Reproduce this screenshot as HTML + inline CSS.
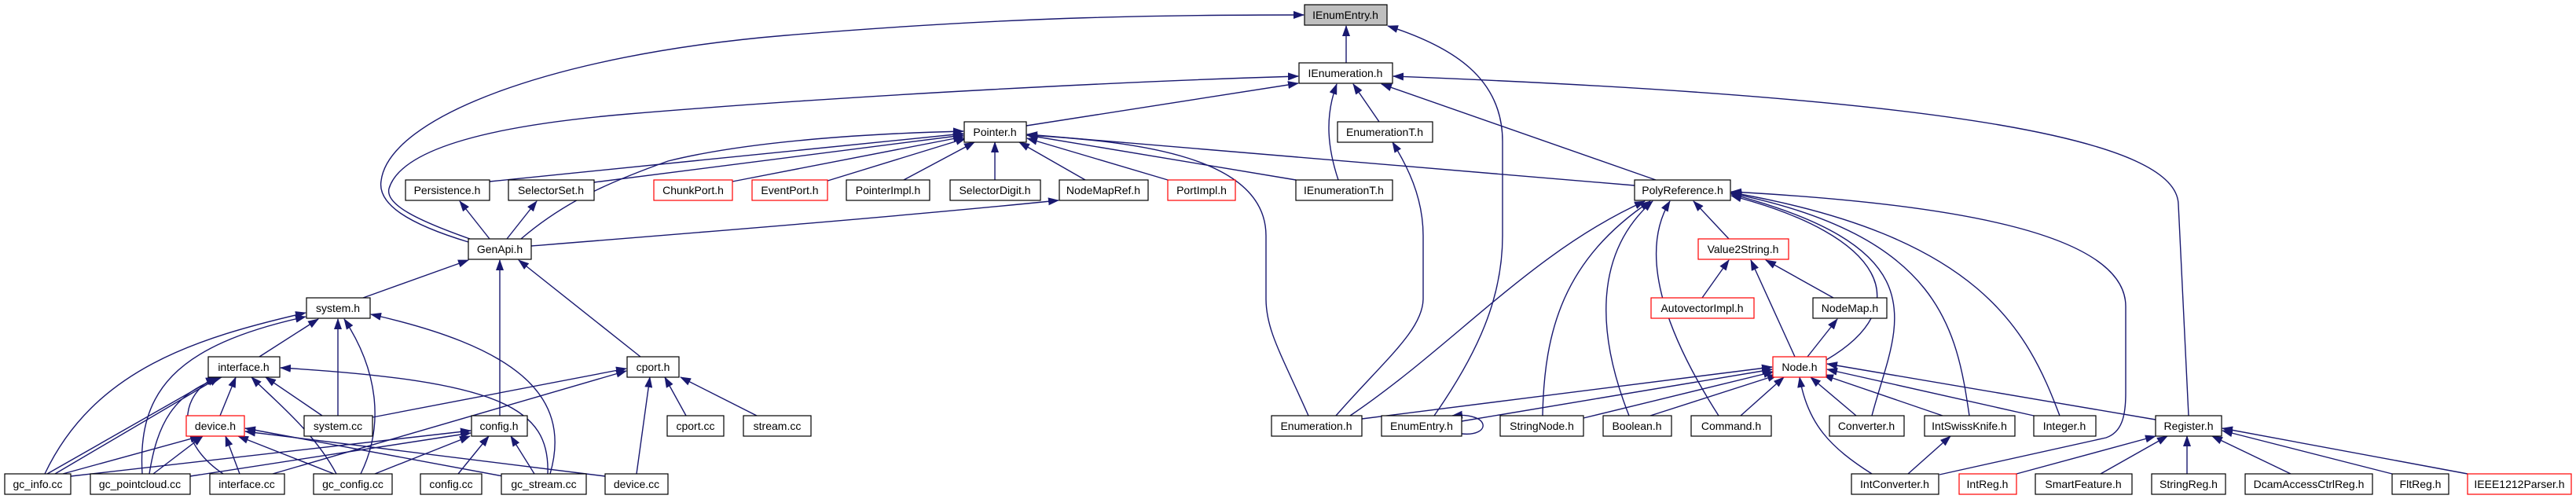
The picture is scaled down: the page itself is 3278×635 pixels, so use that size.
<!DOCTYPE html>
<html><head><meta charset="utf-8"><style>
html,body{margin:0;padding:0;background:#fff}
svg{display:block}
text{font-family:"Liberation Sans",sans-serif;font-size:14px;fill:#000;text-anchor:middle}
.e{fill:none;stroke:#191970;stroke-width:1.4;marker-end:url(#a)}
rect{fill:#fff;stroke:#000;stroke-width:1.2}
rect.r{stroke:#ff0000}
rect.g{fill:#bfbfbf}
</style></head><body>
<svg width="3278" height="635" viewBox="0 0 3278 635" xmlns="http://www.w3.org/2000/svg">
<defs><marker id="a" markerUnits="userSpaceOnUse" markerWidth="14" markerHeight="10" refX="13" refY="5" orient="auto"><path d="M0,0 L14,5 L0,10 z" fill="#191970"/></marker></defs>
<g>
<path class="e" d="M1713,80 L1713,33"/>
<path class="e" d="M596,308 C520,285 480,260 485,230 C495,150 700,70 1000,45 C1300,20 1500,19 1659,19"/>
<path class="e" d="M598,304 C530,280 490,260 495,240 C510,190 620,160 800,145 C1100,120 1450,103 1652,97"/>
<path class="e" d="M1825,529 C1880,450 1912,380 1912,300 L1912,180 C1912,100 1850,60 1766,33"/>
<path class="e" d="M1306,160 L1652,106"/>
<path class="e" d="M1703,229 C1690,190 1685,150 1701,107"/>
<path class="e" d="M1755,155 L1722,107"/>
<path class="e" d="M2107,229 L1758,107"/>
<path class="e" d="M2785,529 L2772,260 C2770,180 2500,125 1773,97"/>
<path class="e" d="M623,231 L1226,170"/>
<path class="e" d="M756,232 L1226,172"/>
<path class="e" d="M932,231 L1226,174"/>
<path class="e" d="M1050,231 L1229,176"/>
<path class="e" d="M1150,229 L1240,181"/>
<path class="e" d="M1266,229 L1266,181"/>
<path class="e" d="M1381,229 L1297,181"/>
<path class="e" d="M1486,229 L1307,176"/>
<path class="e" d="M1649,229 L1307,172"/>
<path class="e" d="M2080,236 L1307,171"/>
<path class="e" d="M663,304 C720,255 780,230 850,205 C950,180 1100,170 1226,167"/>
<path class="e" d="M1665,529 C1630,450 1611,420 1611,380 L1611,300 C1611,200 1450,180 1307,172"/>
<path class="e" d="M623,304 L585,256"/>
<path class="e" d="M645,304 L683,256"/>
<path class="e" d="M676,313 C900,295 1150,275 1347,255"/>
<path class="e" d="M462,379 L596,331"/>
<path class="e" d="M636,529 L636,331"/>
<path class="e" d="M815,454 L660,331"/>
<path class="e" d="M330,454 L405,406"/>
<path class="e" d="M430,529 L430,406"/>
<path class="e" d="M57,603 C120,470 250,430 389,398"/>
<path class="e" d="M181,603 C175,500 220,440 389,403"/>
<path class="e" d="M459,603 C490,540 480,470 438,406"/>
<path class="e" d="M700,603 C730,500 650,440 472,400"/>
<path class="e" d="M280,529 L300,480"/>
<path class="e" d="M410,529 L338,480"/>
<path class="e" d="M284,603 C220,560 230,500 275,480"/>
<path class="e" d="M60,603 L276,480"/>
<path class="e" d="M70,603 L279,480"/>
<path class="e" d="M190,603 C200,540 220,500 282,480"/>
<path class="e" d="M428,603 C400,550 350,510 320,480"/>
<path class="e" d="M697,603 C700,520 640,485 357,468"/>
<path class="e" d="M474,531 L797,469"/>
<path class="e" d="M347,603 L797,472"/>
<path class="e" d="M810,603 L827,480"/>
<path class="e" d="M873,529 L846,480"/>
<path class="e" d="M963,529 L866,480"/>
<path class="e" d="M80,603 L255,555"/>
<path class="e" d="M195,603 L258,555"/>
<path class="e" d="M305,603 L287,555"/>
<path class="e" d="M425,603 L303,555"/>
<path class="e" d="M640,606 L312,545"/>
<path class="e" d="M770,606 L312,549"/>
<path class="e" d="M90,606 L599,548"/>
<path class="e" d="M242,606 L599,551"/>
<path class="e" d="M477,603 L598,555"/>
<path class="e" d="M583,603 L622,555"/>
<path class="e" d="M680,603 L650,555"/>
<path class="e" d="M1718,529 C1850,440 1950,320 2093,256"/>
<path class="e" d="M1963,529 C1965,420 1990,330 2100,256"/>
<path class="e" d="M2073,529 C2030,420 2030,320 2103,256"/>
<path class="e" d="M2187,529 C2130,440 2080,330 2125,256"/>
<path class="e" d="M2200,304 L2155,256"/>
<path class="e" d="M2324,458 C2440,390 2400,300 2203,249"/>
<path class="e" d="M2382,529 C2410,420 2480,320 2203,247"/>
<path class="e" d="M2506,529 C2490,420 2470,300 2203,246"/>
<path class="e" d="M2621,529 C2580,420 2520,300 2203,245"/>
<path class="e" d="M2468,604 L2680,557 C2700,550 2705,530 2705,500 L2705,390 C2705,300 2500,260 2203,244"/>
<path class="e" d="M2166,379 L2200,331"/>
<path class="e" d="M2333,379 L2247,331"/>
<path class="e" d="M2284,454 L2228,331"/>
<path class="e" d="M2300,454 L2338,406"/>
<path class="e" d="M1733,533 L2255,467"/>
<path class="e" d="M1860,536 L2255,470"/>
<path class="e" d="M2015,532 L2257,473"/>
<path class="e" d="M2100,529 L2262,477"/>
<path class="e" d="M2215,529 L2270,480"/>
<path class="e" d="M2362,529 L2304,480"/>
<path class="e" d="M2472,529 L2320,477"/>
<path class="e" d="M2588,529 L2325,470"/>
<path class="e" d="M2743,534 L2325,463"/>
<path class="e" d="M2382,603 C2330,570 2300,540 2290,480"/>
<path class="e" d="M2428,603 L2482,555"/>
<path class="e" d="M2566,603 L2743,555"/>
<path class="e" d="M2673,603 L2758,555"/>
<path class="e" d="M2783,603 L2783,555"/>
<path class="e" d="M2915,603 L2815,555"/>
<path class="e" d="M3044,603 L2828,548"/>
<path class="e" d="M3140,603 L2828,545"/>
<path class="e" d="M1700,529 C1760,460 1811,420 1811,380 L1811,300 C1811,250 1790,210 1772,181"/>
<path class="e" d="M1860,552 C1898,556 1898,524 1848,529"/>
</g>
<g>
<rect class="g" x="1660" y="6" width="105" height="26"/><text x="1712" y="24">IEnumEntry.h</text>
<rect x="1653" y="80" width="119" height="26"/><text x="1712" y="98">IEnumeration.h</text>
<rect x="1227" y="155" width="79" height="26"/><text x="1266" y="173">Pointer.h</text>
<rect x="1702" y="155" width="121" height="26"/><text x="1762" y="173">EnumerationT.h</text>
<rect x="516" y="229" width="107" height="26"/><text x="569" y="247">Persistence.h</text>
<rect x="647" y="229" width="109" height="26"/><text x="701" y="247">SelectorSet.h</text>
<rect class="r" x="832" y="229" width="100" height="26"/><text x="882" y="247">ChunkPort.h</text>
<rect class="r" x="957" y="229" width="96" height="26"/><text x="1005" y="247">EventPort.h</text>
<rect x="1077" y="229" width="106" height="26"/><text x="1130" y="247">PointerImpl.h</text>
<rect x="1209" y="229" width="115" height="26"/><text x="1266" y="247">SelectorDigit.h</text>
<rect x="1348" y="229" width="113" height="26"/><text x="1404" y="247">NodeMapRef.h</text>
<rect class="r" x="1486" y="229" width="86" height="26"/><text x="1529" y="247">PortImpl.h</text>
<rect x="1649" y="229" width="123" height="26"/><text x="1710" y="247">IEnumerationT.h</text>
<rect x="2080" y="229" width="122" height="26"/><text x="2141" y="247">PolyReference.h</text>
<rect x="596" y="304" width="80" height="26"/><text x="636" y="322">GenApi.h</text>
<rect class="r" x="2161" y="304" width="115" height="26"/><text x="2218" y="322">Value2String.h</text>
<rect x="390" y="379" width="81" height="26"/><text x="430" y="397">system.h</text>
<rect class="r" x="2101" y="379" width="131" height="26"/><text x="2166" y="397">AutovectorImpl.h</text>
<rect x="2307" y="379" width="94" height="26"/><text x="2354" y="397">NodeMap.h</text>
<rect x="265" y="454" width="91" height="26"/><text x="310" y="472">interface.h</text>
<rect x="798" y="454" width="66" height="26"/><text x="831" y="472">cport.h</text>
<rect class="r" x="2256" y="454" width="68" height="26"/><text x="2290" y="472">Node.h</text>
<rect class="r" x="237" y="529" width="74" height="26"/><text x="274" y="547">device.h</text>
<rect x="387" y="529" width="87" height="26"/><text x="430" y="547">system.cc</text>
<rect x="600" y="529" width="71" height="26"/><text x="635" y="547">config.h</text>
<rect x="849" y="529" width="72" height="26"/><text x="885" y="547">cport.cc</text>
<rect x="946" y="529" width="86" height="26"/><text x="989" y="547">stream.cc</text>
<rect x="1618" y="529" width="115" height="26"/><text x="1675" y="547">Enumeration.h</text>
<rect x="1758" y="529" width="102" height="26"/><text x="1809" y="547">EnumEntry.h</text>
<rect x="1909" y="529" width="106" height="26"/><text x="1962" y="547">StringNode.h</text>
<rect x="2040" y="529" width="87" height="26"/><text x="2083" y="547">Boolean.h</text>
<rect x="2152" y="529" width="102" height="26"/><text x="2203" y="547">Command.h</text>
<rect x="2328" y="529" width="95" height="26"/><text x="2375" y="547">Converter.h</text>
<rect x="2449" y="529" width="115" height="26"/><text x="2506" y="547">IntSwissKnife.h</text>
<rect x="2588" y="529" width="79" height="26"/><text x="2627" y="547">Integer.h</text>
<rect x="2743" y="529" width="84" height="26"/><text x="2785" y="547">Register.h</text>
<rect x="6" y="603" width="84" height="26"/><text x="48" y="621">gc_info.cc</text>
<rect x="115" y="603" width="127" height="26"/><text x="178" y="621">gc_pointcloud.cc</text>
<rect x="267" y="603" width="95" height="26"/><text x="314" y="621">interface.cc</text>
<rect x="399" y="603" width="100" height="26"/><text x="449" y="621">gc_config.cc</text>
<rect x="535" y="603" width="78" height="26"/><text x="574" y="621">config.cc</text>
<rect x="638" y="603" width="108" height="26"/><text x="692" y="621">gc_stream.cc</text>
<rect x="770" y="603" width="80" height="26"/><text x="810" y="621">device.cc</text>
<rect x="2356" y="603" width="111" height="26"/><text x="2411" y="621">IntConverter.h</text>
<rect class="r" x="2493" y="603" width="73" height="26"/><text x="2529" y="621">IntReg.h</text>
<rect x="2590" y="603" width="123" height="26"/><text x="2651" y="621">SmartFeature.h</text>
<rect x="2738" y="603" width="94" height="26"/><text x="2785" y="621">StringReg.h</text>
<rect x="2857" y="603" width="162" height="26"/><text x="2938" y="621">DcamAccessCtrlReg.h</text>
<rect x="3044" y="603" width="72" height="26"/><text x="3080" y="621">FltReg.h</text>
<rect class="r" x="3140" y="603" width="132" height="26"/><text x="3206" y="621">IEEE1212Parser.h</text>
</g>
</svg>
</body></html>
